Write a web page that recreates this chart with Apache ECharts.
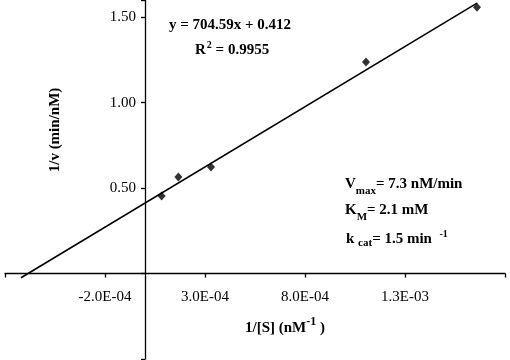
<!DOCTYPE html>
<html>
<head>
<meta charset="utf-8">
<script src="https://cdn.jsdelivr.net/npm/echarts@6/dist/echarts.min.js"></script>
<style>
html,body{margin:0;padding:0;background:#fff;}
#c{width:510px;height:360px;}
</style>
</head>
<body>
<div id="c"></div>
<script>
// Data
const invS = [8.3e-5, 1.67e-4, 3.3e-4, 1.105e-3, 1.66e-3];   // 1/[S] (nM^-1)
const invV = [0.453, 0.564, 0.623, 1.237, 1.558];            // 1/v (min/nM)
const fitX = [-6.2e-4, 1.66e-3];                              // trendline ends
const fitY = [-0.025, 1.582];
const xShownTicks = [-2e-4, 3e-4, 8e-4, 1.3e-3];
const yShownTicks = [0.5, 1.0, 1.5];

const FONT = '"Liberation Serif", "Times New Roman", serif';
const GRID = {left: 5, right: 5, top: 0, bottom: 1};
const W = 510, H = 360;

function sci(v) {
  if (v === 0) return '0.0E+00';
  let e = Math.floor(Math.log10(Math.abs(v)));
  let m = v / Math.pow(10, e);
  if (Math.abs(+m.toFixed(1)) >= 10) { e += 1; m = v / Math.pow(10, e); }
  const ae = Math.abs(e);
  return m.toFixed(1) + 'E' + (e < 0 ? '-' : '+') + (ae < 10 ? '0' : '') + ae;
}
function near(v, list, tol) { return list.some(t => Math.abs(t - v) < tol); }

const chart = echarts.init(document.getElementById('c'), null, {renderer: 'canvas', width: W, height: H});
const bold = {fontFamily: FONT, fontWeight: 'bold', fontSize: 15, color: '#000'};
const axisCommon = {
  axisLine: {onZero: false, lineStyle: {color: '#000', width: 1.3}},
  axisTick: {show: true, inside: false, length: 4, lineStyle: {color: '#000', width: 1.3}},
  splitLine: {show: false}
};

chart.setOption({
  backgroundColor: '#fff',
  animation: false,
  grid: Object.assign({containLabel: false, outerBoundsMode: 'none'}, GRID),
  xAxis: Object.assign({
    type: 'value', min: -7e-4, max: 1.8e-3, interval: 5e-4, position: 'bottom', offset: 0,
    axisLabel: {
      margin: 16, fontFamily: FONT, fontSize: 15, color: '#000',
      formatter: v => near(v, xShownTicks, 1e-6) ? sci(v) : ''
    }
  }, axisCommon),
  yAxis: Object.assign({
    type: 'value', min: -0.5, max: 1.6, interval: 0.5, position: 'left', offset: 0,
    axisLabel: {
      margin: 9, fontFamily: FONT, fontSize: 15, color: '#000',
      formatter: v => near(v, yShownTicks, 1e-3) ? v.toFixed(2) : ''
    }
  }, axisCommon),
  series: [
    {
      type: 'line', data: fitX.map((x, i) => [x, fitY[i]]),
      showSymbol: false, symbol: 'none', silent: true,
      lineStyle: {color: '#000', width: 1.6}, z: 2
    },
    {
      type: 'scatter', data: invS.map((x, i) => [x, invV[i]]),
      symbol: 'diamond', symbolSize: [8, 9],
      itemStyle: {color: '#000'}, z: 3
    }
  ],
  graphic: [
    {type: 'text', x: 55, y: 130, rotation: Math.PI / 2,
     style: {text: '1/v (min/nM)', font: 'bold 15px ' + FONT, fill: '#000', align: 'center', verticalAlign: 'middle'}},
    {type: 'text', x: 169, y: 25,
     style: {text: 'y = 704.59x + 0.412', font: 'bold 15px ' + FONT, fill: '#000', align: 'left', verticalAlign: 'middle'}},
    {type: 'text', x: 195, y: 49,
     style: {text: '{b|R}{sup|2}{b| = 0.9955}', align: 'left', verticalAlign: 'middle',
       rich: {b: Object.assign({lineHeight: 18, verticalAlign: 'bottom'}, bold),
              sup: {fontFamily: FONT, fontWeight: 'bold', fontSize: 10, color: '#000', lineHeight: 18, verticalAlign: 'top', padding: [0, 0, 0, 1]}}}},
    {type: 'text', x: 345, y: 187,
     style: {text: '{b|V}{sub|max}{b|= 7.3 nM/min}', align: 'left', verticalAlign: 'middle',
       rich: {b: Object.assign({lineHeight: 20, verticalAlign: 'top'}, bold),
              sub: {fontFamily: FONT, fontWeight: 'bold', fontSize: 11, color: '#000', lineHeight: 20, verticalAlign: 'bottom'}}}},
    {type: 'text', x: 345, y: 213,
     style: {text: '{b|K}{sub|M}{b|= 2.1 mM}', align: 'left', verticalAlign: 'middle',
       rich: {b: Object.assign({lineHeight: 20, verticalAlign: 'top'}, bold),
              sub: {fontFamily: FONT, fontWeight: 'bold', fontSize: 11, color: '#000', lineHeight: 20, verticalAlign: 'bottom'}}}},
    {type: 'text', x: 346, y: 239,
     style: {text: '{b|k }{sub|cat}{b|= 1.5 min  }{sup|-1}', align: 'left', verticalAlign: 'middle',
       rich: {b: Object.assign({lineHeight: 20, verticalAlign: 'middle'}, bold),
              sub: {fontFamily: FONT, fontWeight: 'bold', fontSize: 11, color: '#000', lineHeight: 20, verticalAlign: 'bottom'},
              sup: {fontFamily: FONT, fontWeight: 'bold', fontSize: 10, color: '#000', lineHeight: 20, verticalAlign: 'top'}}}},
    {type: 'text', x: 245, y: 326,
     style: {text: '{b|1/[S] (nM}{sup|-1}{b| )}', align: 'left', verticalAlign: 'middle',
       rich: {b: Object.assign({lineHeight: 20, verticalAlign: 'bottom'}, bold),
              sup: {fontFamily: FONT, fontWeight: 'bold', fontSize: 12, color: '#000', lineHeight: 20, verticalAlign: 'top'}}}}
  ]
});

// Move the axes so they cross at (0, 0), using the library's own scales.
const origin = chart.convertToPixel({gridIndex: 0}, [0, 0]);
const gridBottomY = H - GRID.bottom;
chart.setOption({
  xAxis: {offset: -(gridBottomY - origin[1])},
  yAxis: {offset: -(origin[0] - GRID.left)}
});
</script>
</body>
</html>
